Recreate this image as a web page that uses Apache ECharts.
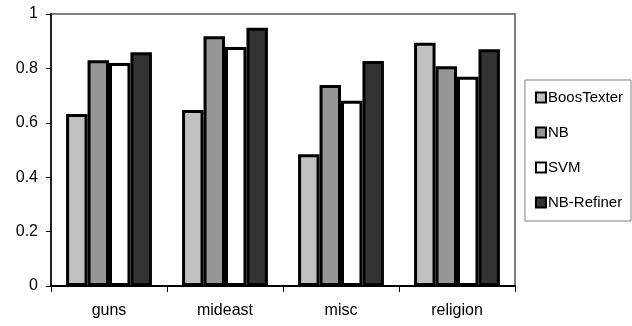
<!DOCTYPE html>
<html>
<head>
<meta charset="utf-8">
<script src="https://cdn.jsdelivr.net/npm/echarts@6/dist/echarts.min.js"></script>
<style>
  html, body { margin: 0; padding: 0; background: #fff; }
  #chart { width: 632px; height: 326px; }
</style>
</head>
<body>
<div id="chart"></div>
<script>
// Newsgroup categories and per-method scores
const categories = ['guns', 'mideast', 'misc', 'religion'];
const seriesNames = ['BoosTexter', 'NB', 'SVM', 'NB-Refiner'];
const boosTexter = [0.632, 0.647, 0.484, 0.894];
const nb = [0.830, 0.918, 0.739, 0.808];
const svm = [0.820, 0.879, 0.681, 0.769];
const nbRefiner = [0.859, 0.949, 0.827, 0.870];
const seriesColors = ['#c0c0c0', '#969696', '#ffffff', '#333333'];
const seriesValues = [boosTexter, nb, svm, nbRefiner];

const font = 'Liberation Sans, Arial, sans-serif';

const chart = echarts.init(document.getElementById('chart'), null, { renderer: 'canvas' });

chart.setOption({
  animation: false,
  backgroundColor: '#ffffff',
  grid: {
    left: 51, right: 117, top: 14, bottom: 40,
    show: true,
    borderColor: '#808080',
    borderWidth: 2,
    backgroundColor: 'transparent'
  },
  legend: {
    orient: 'vertical',
    right: 1,
    top: 80,
    padding: [10, 8, 11, 10],
    itemGap: 20,
    itemWidth: 10,
    itemHeight: 10,
    icon: 'rect',
    borderColor: '#808080',
    borderWidth: 1,
    backgroundColor: '#ffffff',
    textStyle: { fontFamily: font, fontSize: 15, color: '#000', padding: [0, 0, 0, -3] },
    itemStyle: { borderColor: '#000', borderWidth: 2 },
    data: seriesNames
  },
  xAxis: {
    type: 'category',
    data: categories,
    axisLine: { lineStyle: { color: '#000', width: 2 } },
    axisTick: { show: true, length: 6, lineStyle: { color: '#000', width: 1 } },
    axisLabel: { fontFamily: font, fontSize: 16, color: '#000', margin: 17 },
    splitLine: { show: false }
  },
  yAxis: {
    type: 'value',
    min: 0,
    max: 1,
    interval: 0.2,
    axisLine: { show: true, lineStyle: { color: '#000', width: 1.5 } },
    axisTick: { show: true, length: 5, lineStyle: { color: '#000', width: 1 } },
    axisLabel: { fontFamily: font, fontSize: 16, color: '#000', margin: 13 },
    splitLine: { show: false }
  },
  series: seriesNames.map((name, i) => ({
    name: name,
    type: 'bar',
    data: seriesValues[i],
    barGap: '0%',
    barCategoryGap: '26%',
    itemStyle: { color: seriesColors[i], borderColor: '#000', borderWidth: 3 }
  }))
});
</script>
</body>
</html>
